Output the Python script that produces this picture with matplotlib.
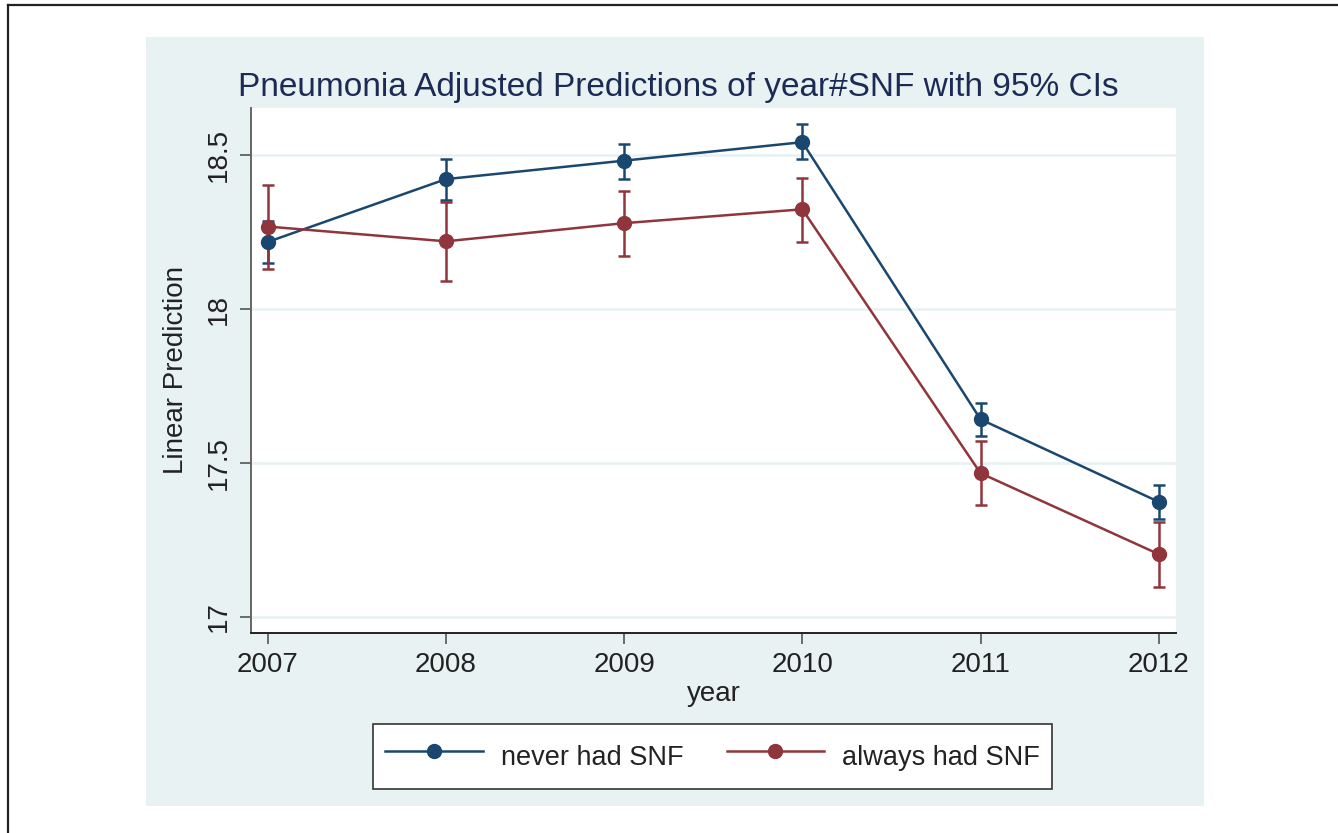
import matplotlib

matplotlib.use("Agg")
import matplotlib.pyplot as plt
from matplotlib.lines import Line2D
from matplotlib.patches import Rectangle


# Valores (margins de year#SNF)
anos = [2007, 2008, 2009, 2010, 2011, 2012]

nunca_snf = [18.218, 18.422, 18.482, 18.542, 17.642, 17.374]
nunca_snf_inf = [18.150, 18.354, 18.424, 18.486, 17.588, 17.319]
nunca_snf_sup = [18.286, 18.486, 18.537, 18.600, 17.694, 17.429]

sempre_snf = [18.268, 18.220, 18.279, 18.324, 17.467, 17.204]
sempre_snf_inf = [18.131, 18.090, 18.172, 18.217, 17.363, 17.098]
sempre_snf_sup = [18.402, 18.348, 18.385, 18.426, 17.572, 17.308]

yticks = [17, 17.5, 18, 18.5]
ytick_labels = ["17", "17.5", "18", "18.5"]

AZUL = "#1a476f"
VERMELHO = "#90353b"
FUNDO = "#e9f2f3"
TITULO_COR = "#1c2b55"
TEXTO = "#222222"

plt.rcParams["font.family"] = ["Liberation Sans", "DejaVu Sans"]


def desenhar_serie(ax, valores, inf, sup, cor, rotulo):
    erros = [
        [v - lo for v, lo in zip(valores, inf)],
        [hi - v for v, hi in zip(valores, sup)],
    ]
    ax.errorbar(
        anos, valores, yerr=erros, fmt="none", ecolor=cor,
        elinewidth=1.8, capsize=4.5, capthick=1.8, zorder=3,
    )
    ax.plot(
        anos, valores, color=cor, linewidth=1.8, marker="o",
        markersize=10, label=rotulo, zorder=4,
    )


def main() -> None:
    fig = plt.figure(figsize=(13.38, 8.33), dpi=100)
    fig.patch.set_facecolor("white")

    # Moldura externa (só esquerda e topo aparecem no recorte)
    fig.add_artist(Line2D([7.5 / 1338, 7.5 / 1338], [0, 1 - 5 / 833],
                          color="#222222", linewidth=1.6, transform=fig.transFigure))
    fig.add_artist(Line2D([7.5 / 1338, 1], [1 - 5 / 833, 1 - 5 / 833],
                          color="#222222", linewidth=1.6, transform=fig.transFigure))

    # Região do gráfico (fundo azulado)
    fig.add_artist(Rectangle((146 / 1338, 1 - 806 / 833), 1058 / 1338, 769 / 833,
                             facecolor=FUNDO, edgecolor="none",
                             transform=fig.transFigure, zorder=0))

    ax = fig.add_axes([251 / 1338, 1 - 633 / 833, 925 / 1338, 525 / 833])
    ax.set_facecolor("white")
    ax.set_zorder(1)

    desenhar_serie(ax, nunca_snf, nunca_snf_inf, nunca_snf_sup, AZUL, "never had SNF")
    desenhar_serie(ax, sempre_snf, sempre_snf_inf, sempre_snf_sup, VERMELHO, "always had SNF")

    ax.set_xlim(2006.906, 2012.097)
    ax.set_ylim(16.948, 18.653)
    ax.set_xticks(anos)
    ax.set_xticklabels([str(a) for a in anos])
    ax.set_yticks(yticks)
    ax.set_yticklabels(ytick_labels, rotation=90, va="center")

    ax.grid(True, axis="y", color=FUNDO, linewidth=2, zorder=0)
    ax.set_axisbelow(True)

    for lado in ["top", "right"]:
        ax.spines[lado].set_visible(False)
    ax.spines["left"].set_color("#666666")
    ax.spines["left"].set_linewidth(1.4)
    ax.spines["bottom"].set_color("#222222")
    ax.spines["bottom"].set_linewidth(1.4)

    ax.tick_params(axis="x", length=8, width=1.2, color="#555555",
                   labelsize=20, labelcolor=TEXTO, pad=6)
    ax.tick_params(axis="y", length=8, width=1.2, color="#555555",
                   labelsize=20, labelcolor=TEXTO, pad=6)

    ax.set_xlabel("year", fontsize=20, color=TEXTO, labelpad=2)
    ax.set_ylabel("Linear Prediction", fontsize=20, color=TEXTO, labelpad=12)

    fig.text(678.5 / 1338, 1 - 96 / 833,
             "Pneumonia Adjusted Predictions of year#SNF with 95% CIs",
             ha="center", va="baseline", fontsize=24, color=TITULO_COR)

    leg = fig.legend(
        loc="center", bbox_to_anchor=(712.5 / 1338, 1 - 756.5 / 833), ncol=2,
        fontsize=19.5, frameon=True, fancybox=False, framealpha=1,
        handlelength=3.6, handleheight=1.95, handletextpad=0.65,
        columnspacing=1.6, borderpad=0.45, borderaxespad=0,
    )
    leg.get_frame().set_edgecolor("#333333")
    leg.get_frame().set_linewidth(1.2)
    leg.get_frame().set_facecolor("white")
    for texto in leg.get_texts():
        texto.set_color(TEXTO)

    fig.savefig("out.png", dpi=100, facecolor="white")
    plt.close(fig)


if __name__ == "__main__":
    main()
